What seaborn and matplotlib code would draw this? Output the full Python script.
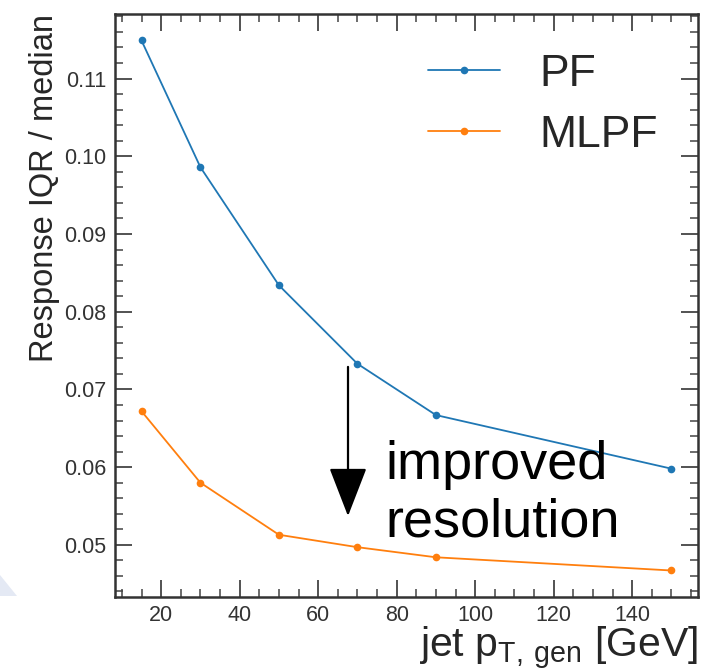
import matplotlib
matplotlib.use("Agg")
import matplotlib.pyplot as plt
from matplotlib.patches import Polygon
from matplotlib.ticker import MultipleLocator
import numpy as np
import pandas as pd
import seaborn as sns

# jet pT bins [GeV]
pt_bins = [15, 30, 50, 70, 90, 150]
# response IQR / median per bin
pf_resolution = [0.1149, 0.0986, 0.0834, 0.0733, 0.0667, 0.0598]
mlpf_resolution = [0.0672, 0.0580, 0.0513, 0.0497, 0.0484, 0.0467]
series_names = ["PF", "MLPF"]
series_colors = ["#1f77b4", "#ff7f0e"]

df = pd.DataFrame({
    "pt": pt_bins * 2,
    "resolution": pf_resolution + mlpf_resolution,
    "algo": [series_names[0]] * len(pt_bins) + [series_names[1]] * len(pt_bins),
})

sns.set_style("ticks")
plt.rcParams["font.family"] = ["Liberation Sans", "DejaVu Sans"]
plt.rcParams["mathtext.default"] = "regular"

fig = plt.figure(figsize=(7.03, 6.68), dpi=100)
ax = fig.add_axes([115 / 703, 1 - 597 / 668, (698 - 115) / 703, (597 - 14) / 668])

# faint slide decoration at lower left
fig.patches.append(Polygon([[0, 1 - 575 / 668], [17 / 703, 1 - 596 / 668], [0, 1 - 596 / 668]],
                           closed=True, transform=fig.transFigure,
                           facecolor="#e4e9f4", edgecolor="none", zorder=0))

for name, color in zip(series_names, series_colors):
    sns.lineplot(data=df[df["algo"] == name], x="pt", y="resolution", ax=ax,
                 color=color, marker="o", markersize=5.5, markeredgewidth=0,
                 linewidth=1.3, label=name)

ax.legend(loc="upper right", frameon=False, fontsize=32, handlelength=1.6,
          handletextpad=0.9, labelspacing=0.45, borderaxespad=0.5)

ax.set_xlabel(r"jet $p_{T,\,gen}$ [GeV]", fontsize=29.5, loc="right", labelpad=-1)
ax.set_ylabel("Response IQR / median", fontsize=23.5, loc="top", labelpad=3)

ax.xaxis.set_major_locator(MultipleLocator(20))
ax.xaxis.set_minor_locator(MultipleLocator(5))
ax.yaxis.set_major_locator(MultipleLocator(0.01))
ax.yaxis.set_minor_locator(MultipleLocator(0.002))
ax.yaxis.set_major_formatter(matplotlib.ticker.FormatStrFormatter("%.2f"))
ax.margins(x=0.05, y=0.05)

ax.tick_params(which="both", direction="in", top=True, right=True,
               color="#444444", labelsize=15.5, labelcolor="#333333")
ax.tick_params(which="major", length=12, width=1.3, pad=6)
ax.tick_params(which="minor", length=6, width=1.1)
for sp in ax.spines.values():
    sp.set_linewidth(1.8)
    sp.set_color("#333333")

# annotation: arrow and text
ax.annotate("", xy=(67.6, 0.0537), xytext=(67.6, 0.0729),
            arrowprops=dict(arrowstyle="-|>,head_length=1.55,head_width=0.6",
                            mutation_scale=20, color="black", lw=1.6,
                            shrinkA=0, shrinkB=0))
ax.text(77.0, 0.0511, "improved\nresolution", fontsize=39, ha="left",
        va="baseline", linespacing=1.2, color="black")

fig.savefig("out.png", dpi=100)
